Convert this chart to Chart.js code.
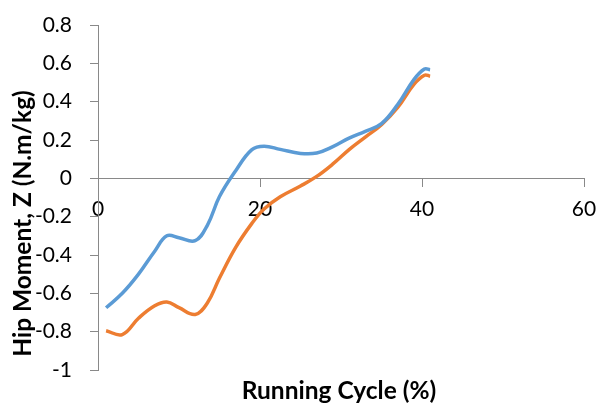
<!DOCTYPE html>
<html>
<head>
<meta charset="utf-8">
<script src="https://cdn.jsdelivr.net/npm/chart.js@4/dist/chart.umd.min.js"></script>
<style>
  html, body { margin: 0; padding: 0; background: #ffffff; }
  canvas { display: block; }
</style>
</head>
<body>
<canvas id="chart" width="599" height="405"></canvas>
<script>
// Running cycle (%) sample positions shared by both curves
const cycle = [1, 3, 5, 7, 8.5, 10, 12, 13.5, 15, 17, 19, 20.5, 22.5, 25, 27, 29, 31, 33, 35, 37, 39, 40.3, 41];

// Hip moment about Z (N.m/kg)
const momentBlue = [-0.675, -0.60, -0.50, -0.38, -0.30, -0.31, -0.325, -0.245, -0.095, 0.04, 0.15, 0.168, 0.151, 0.13, 0.132, 0.165, 0.21, 0.245, 0.285, 0.385, 0.515, 0.57, 0.567];
const momentOrange = [-0.795, -0.815, -0.73, -0.665, -0.645, -0.675, -0.71, -0.65, -0.52, -0.36, -0.235, -0.16, -0.096, -0.04, 0.01, 0.075, 0.15, 0.215, 0.28, 0.37, 0.49, 0.538, 0.533];

// Axis ticks and titles
const xTicks = [0, 20, 40, 60];
const yTicks = [-1, -0.8, -0.6, -0.4, -0.2, 0, 0.2, 0.4, 0.6, 0.8];
const xTitle = 'Running Cycle (%)';
const yTitle = 'Hip Moment, Z (N.m/kg)';

const AXIS_GRAY = '#898989';
const FONT = 'Lato, "Open Sans", sans-serif';

const toPoints = (xs, ys) => xs.map((x, i) => ({ x: x, y: ys[i] }));

// Let the layout padding alone decide where the plot box sits
const noScalePadding = (s) => {
  s.paddingLeft = 0; s.paddingRight = 0; s.paddingTop = 0; s.paddingBottom = 0;
};

// Axis titles placed outside the plot box
const axisTitles = {
  id: 'axisTitles',
  afterDraw(chart) {
    const { ctx, chartArea } = chart;
    ctx.save();
    ctx.fillStyle = '#000000';
    ctx.font = 'bold 24.5px ' + FONT;
    ctx.textAlign = 'center';
    ctx.textBaseline = 'middle';
    ctx.fillText(xTitle, (chartArea.left + chartArea.right) / 2 - 2, chartArea.bottom + 21);
    ctx.translate(23, (chartArea.top + chartArea.bottom) / 2 + 26);
    ctx.rotate(-Math.PI / 2);
    ctx.fillText(yTitle, 0, 0);
    ctx.restore();
  }
};

new Chart(document.getElementById('chart'), {
  type: 'line',
  data: {
    datasets: [
      {
        data: toPoints(cycle, momentBlue),
        borderColor: '#5B9BD5',
        borderWidth: 3.5,
        pointRadius: 0,
        tension: 0.4,
        fill: false
      },
      {
        data: toPoints(cycle, momentOrange),
        borderColor: '#ED7D31',
        borderWidth: 3.5,
        pointRadius: 0,
        tension: 0.4,
        fill: false
      }
    ]
  },
  options: {
    responsive: false,
    animation: false,
    layout: { padding: { left: 0, right: 15, top: 25, bottom: 35 } },
    plugins: {
      legend: { display: false },
      tooltip: { enabled: false }
    },
    scales: {
      x: {
        type: 'linear',
        position: { y: 0 },
        min: 0,
        max: 60,
        afterBuildTicks: (s) => { s.ticks = xTicks.map(v => ({ value: v })); },
        afterFit: noScalePadding,
        grid: { display: true, drawOnChartArea: false, drawTicks: true, tickLength: 8, color: AXIS_GRAY, lineWidth: 1 },
        border: { display: true, color: AXIS_GRAY, width: 1 },
        ticks: { color: '#000000', font: { family: FONT, size: 21 }, padding: 10, maxRotation: 0, callback: (v) => String(v) }
      },
      y: {
        type: 'linear',
        position: 'left',
        min: -1,
        max: 0.8,
        afterBuildTicks: (s) => { s.ticks = yTicks.map(v => ({ value: v })); },
        afterFit: (s) => { s.width = 98; noScalePadding(s); },
        grid: { display: true, drawOnChartArea: false, drawTicks: true, tickLength: 8, color: AXIS_GRAY, lineWidth: 1 },
        border: { display: true, color: AXIS_GRAY, width: 1 },
        ticks: { color: '#000000', font: { family: FONT, size: 21 }, padding: 18, callback: (v) => String(Number(v.toFixed(1))) }
      }
    }
  },
  plugins: [axisTitles]
});
</script>
</body>
</html>
